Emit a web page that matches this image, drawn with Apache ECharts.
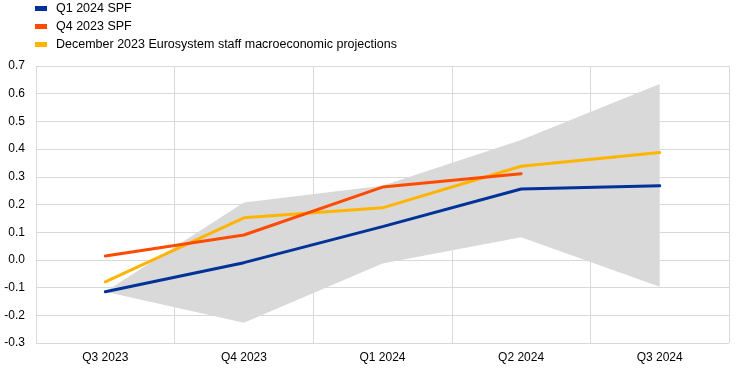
<!DOCTYPE html>
<html><head><meta charset="utf-8">
<script src="https://cdn.jsdelivr.net/npm/echarts@6/dist/echarts.min.js"></script>
<style>html,body{margin:0;padding:0;background:#fff}#c{width:742px;height:369px}</style>
</head><body><div id="c"></div>
<script>
var categories = ['Q3 2023', 'Q4 2023', 'Q1 2024', 'Q2 2024', 'Q3 2024'];
var q1_2024_spf = [-0.115, -0.01, 0.12, 0.256, 0.268];
var q4_2023_spf = [0.014, 0.09, 0.263, 0.311, null];
var dec2023_projections = [-0.079, 0.152, 0.188, 0.338, 0.388];
var bandLower = [-0.115, -0.227, -0.013, 0.082, -0.097];
var bandUpper = [-0.115, 0.207, 0.268, 0.433, 0.635];
var yTicks = [-0.3, -0.2, -0.1, 0.0, 0.1, 0.2, 0.3, 0.4, 0.5, 0.6, 0.7];

var bandDiff = bandUpper.map(function (u, i) { return +(u - bandLower[i]).toFixed(4); });
var font = 'Liberation Sans, Arial, sans-serif';
var chart = echarts.init(document.getElementById('c'), null, {renderer: 'canvas'});
chart.setOption({
  animation: false,
  textStyle: {fontFamily: font},
  legend: {
    orient: 'vertical', left: 30, top: -3, itemWidth: 12, itemHeight: 5, itemGap: 5,
    icon: 'rect',
    textStyle: {fontFamily: font, fontSize: 12.5, color: '#000', padding: [0, 0, 0, 4]},
    data: ['Q1 2024 SPF', 'Q4 2023 SPF', 'December 2023 Eurosystem staff macroeconomic projections']
  },
  grid: {left: 36, right: 13, top: 66, bottom: 26, containLabel: false},
  xAxis: {
    type: 'category', data: categories, boundaryGap: true,
    axisLine: {show: false}, axisTick: {show: false},
    axisLabel: {fontFamily: font, fontSize: 12, color: '#000', margin: 9},
    splitLine: {show: true, lineStyle: {color: '#d9d9d9', width: 1}}
  },
  yAxis: {
    type: 'value', min: yTicks[0], max: yTicks[yTicks.length - 1], interval: 0.1,
    axisLine: {show: false}, axisTick: {show: false},
    axisLabel: {fontFamily: font, fontSize: 12, color: '#000', margin: 11,
      formatter: function (v) { return (Math.round(v * 10) / 10).toFixed(1); }},
    splitLine: {show: true, lineStyle: {color: '#d9d9d9', width: 1}}
  },
  series: [
    {name: 'bandLower', type: 'line', data: bandLower, stack: 'band', stackStrategy: 'all',
      symbol: 'none', lineStyle: {opacity: 0}, silent: true, z: 1},
    {name: 'bandDiff', type: 'line', data: bandDiff, stack: 'band', stackStrategy: 'all',
      symbol: 'none', lineStyle: {opacity: 0}, areaStyle: {color: '#d9d9d9', opacity: 1}, silent: true, z: 1},
    {name: 'Q1 2024 SPF', type: 'line', data: q1_2024_spf, symbol: 'none',
      itemStyle: {color: '#003299'}, lineStyle: {color: '#003299', width: 3, cap: 'round'}, z: 5},
    {name: 'Q4 2023 SPF', type: 'line', data: q4_2023_spf, symbol: 'none',
      itemStyle: {color: '#ff4b00'}, lineStyle: {color: '#ff4b00', width: 3, cap: 'round'}, z: 4},
    {name: 'December 2023 Eurosystem staff macroeconomic projections', type: 'line', data: dec2023_projections, symbol: 'none',
      itemStyle: {color: '#ffb400'}, lineStyle: {color: '#ffb400', width: 3, cap: 'round'}, z: 3}
  ]
});
</script></body></html>
